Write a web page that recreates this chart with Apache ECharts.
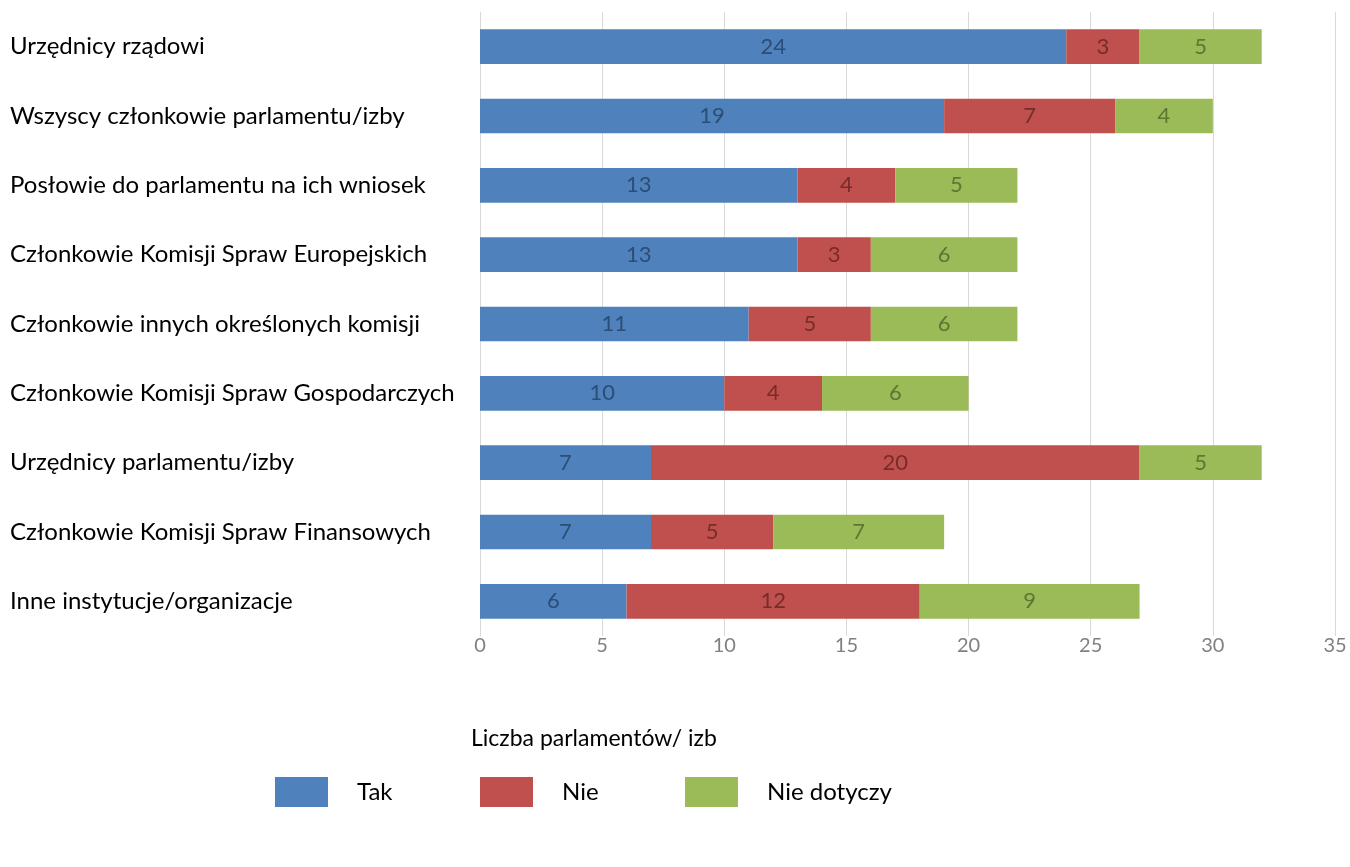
<!DOCTYPE html>
<html>
<head>
<meta charset="utf-8">
<script src="https://cdn.jsdelivr.net/npm/echarts@6/dist/echarts.min.js"></script>
<style>
  html, body { margin: 0; padding: 0; background: #fff; }
  #chart { width: 1350px; height: 867px; }
</style>
</head>
<body>
<div id="chart"></div>
<script>
const categories = [
  "Urzędnicy rządowi",
  "Wszyscy członkowie parlamentu/izby",
  "Posłowie do parlamentu na ich wniosek",
  "Członkowie Komisji Spraw Europejskich",
  "Członkowie innych określonych komisji",
  "Członkowie Komisji Spraw Gospodarczych",
  "Urzędnicy parlamentu/izby",
  "Członkowie Komisji Spraw Finansowych",
  "Inne instytucje/organizacje"
];
const takValues = [24, 19, 13, 13, 11, 10, 7, 7, 6];
const nieValues = [3, 7, 4, 3, 5, 4, 20, 5, 12];
const nieDotyczyValues = [5, 4, 5, 6, 6, 6, 5, 7, 9];
const xTicks = [0, 5, 10, 15, 20, 25, 30, 35];
const seriesNames = ["Tak", "Nie", "Nie dotyczy"];

const font = "Lato, 'Open Sans', sans-serif";

function makeSeries(name, data, color, labelColor) {
  return {
    name: name,
    type: "bar",
    stack: "total",
    barWidth: "50%",
    data: data,
    itemStyle: { color: color },
    label: {
      show: true,
      position: "inside",
      color: labelColor,
      fontFamily: font,
      fontSize: 22
    }
  };
}

// one legend per item so each sits at its own fixed x
function makeLegend(name, left) {
  return {
    left: left,
    top: 777,
    padding: 0,
    itemWidth: 53,
    itemHeight: 30,
    icon: "rect",
    data: [name],
    textStyle: {
      fontFamily: font,
      fontSize: 24,
      color: "#000",
      padding: [0, 0, 0, 24]
    }
  };
}

let chartDom = document.getElementById("chart");
let myChart = echarts.init(chartDom);
let option;

option = {
  animation: false,
  title: {
    text: "Liczba parlamentów/ izb",
    left: 466,
    top: 722,
    textStyle: { fontFamily: font, fontSize: 23, fontWeight: "normal", color: "#000" }
  },
  legend: [
    makeLegend(seriesNames[0], 275),
    makeLegend(seriesNames[1], 480),
    makeLegend(seriesNames[2], 685)
  ],
  grid: {
    left: 480,
    right: 15,
    top: 12,
    bottom: 231
  },
  xAxis: {
    type: "value",
    min: xTicks[0],
    max: xTicks[xTicks.length - 1],
    interval: 5,
    axisLine: { show: false },
    axisTick: { show: false },
    axisLabel: { fontFamily: font, fontSize: 20, color: "#808080", margin: 0 },
    splitLine: { lineStyle: { color: "#d9d9d9", width: 1 } }
  },
  yAxis: {
    type: "category",
    inverse: true,
    data: categories,
    axisLine: { show: true, lineStyle: { color: "#d9d9d9" } },
    axisTick: { show: false },
    axisLabel: {
      align: "left",
      margin: 470,
      fontFamily: font,
      fontSize: 24,
      color: "#000"
    }
  },
  series: [
    makeSeries(seriesNames[0], takValues, "#4f81bd", "#2c4d75"),
    makeSeries(seriesNames[1], nieValues, "#c0504d", "#772c2a"),
    makeSeries(seriesNames[2], nieDotyczyValues, "#9bbb59", "#5f7530")
  ]
};

option && myChart.setOption(option);
</script>
</body>
</html>
